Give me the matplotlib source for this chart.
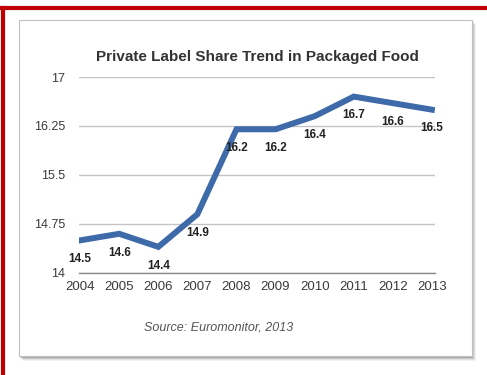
import matplotlib
matplotlib.use("Agg")
import matplotlib.pyplot as plt
from matplotlib.patches import Rectangle
from matplotlib.lines import Line2D

years = ["2004", "2005", "2006", "2007", "2008", "2009", "2010", "2011", "2012", "2013"]
share = [14.5, 14.6, 14.4, 14.9, 16.2, 16.2, 16.4, 16.7, 16.6, 16.5]
yticks = [14, 14.75, 15.5, 16.25, 17]
ytick_labels = ["14", "14.75", "15.5", "16.25", "17"]
title = "Private Label Share Trend in Packaged Food"
source = "Source: Euromonitor, 2013"

plt.rcParams['font.family'] = ['Liberation Sans', 'DejaVu Sans']

W, H = 487, 375
fig = plt.figure(figsize=(W / 100, H / 100), dpi=100)
fig.patch.set_facecolor('white')

def fx(px): return px / W
def fy(py): return 1 - py / H

# card shadow and card
for i, a in enumerate([0.05, 0.07, 0.10, 0.15]):
    off = 4 - i
    fig.patches.append(Rectangle((fx(19 + off), fy(357 + off)), fx(453), 337 / H,
                                 transform=fig.transFigure, facecolor='black', alpha=a,
                                 edgecolor='none', zorder=0))
fig.patches.append(Rectangle((fx(19), fy(356)), fx(453), 336 / H, transform=fig.transFigure,
                             facecolor='white', edgecolor='#c0c0c0', linewidth=0.8, zorder=1))

# red frame (top and left)
fig.lines.append(Line2D([0, 1], [fy(8), fy(8)], transform=fig.transFigure,
                        color='#c00000', linewidth=3, zorder=5))
fig.lines.append(Line2D([fx(3), fx(3)], [0, fy(8)], transform=fig.transFigure,
                        color='#c00000', linewidth=3, zorder=5))

ax = fig.add_axes([fx(79), fy(273), fx(435) - fx(79), fy(77) - fy(273)], zorder=3)
ax.set_facecolor('none')
x = list(range(len(years)))
ax.plot(x, share, color='#3f6aa9', linewidth=4.3, solid_joinstyle='miter', zorder=3)
for xi, v in zip(x, share):
    ax.annotate(f"{v:g}", (xi, v), xytext=(0, -13.5), textcoords='offset points',
                ha='center', va='center', fontsize=8.5, fontweight='bold', color='#222222')

ax.set_xlim(-0.03, 9.08)
ax.set_ylim(14, 17)
ax.set_yticks(yticks)
ax.set_yticklabels(ytick_labels)
ax.set_xticks(x)
ax.set_xticklabels(years)
ax.grid(axis='y', color='#c4c4c4', linewidth=1.0)
ax.set_axisbelow(True)
for s in ax.spines.values():
    s.set_visible(False)
ax.spines['bottom'].set_visible(True)
ax.spines['bottom'].set_color('#8a8a8a')
ax.spines['bottom'].set_linewidth(1.0)
ax.tick_params(axis='both', length=0, colors='#3a3a3a')
ax.tick_params(axis='y', pad=10, labelsize=9)
ax.tick_params(axis='x', pad=6, labelsize=9.5)

fig.text(fx(257), fy(57), title, ha='center', va='center', fontsize=11,
         fontweight='bold', color='#333333', zorder=4)
fig.text(fx(219), fy(327), source, ha='center', va='center', fontsize=9,
         style='italic', color='#555555', zorder=4)

fig.savefig('out.png', dpi=100)
